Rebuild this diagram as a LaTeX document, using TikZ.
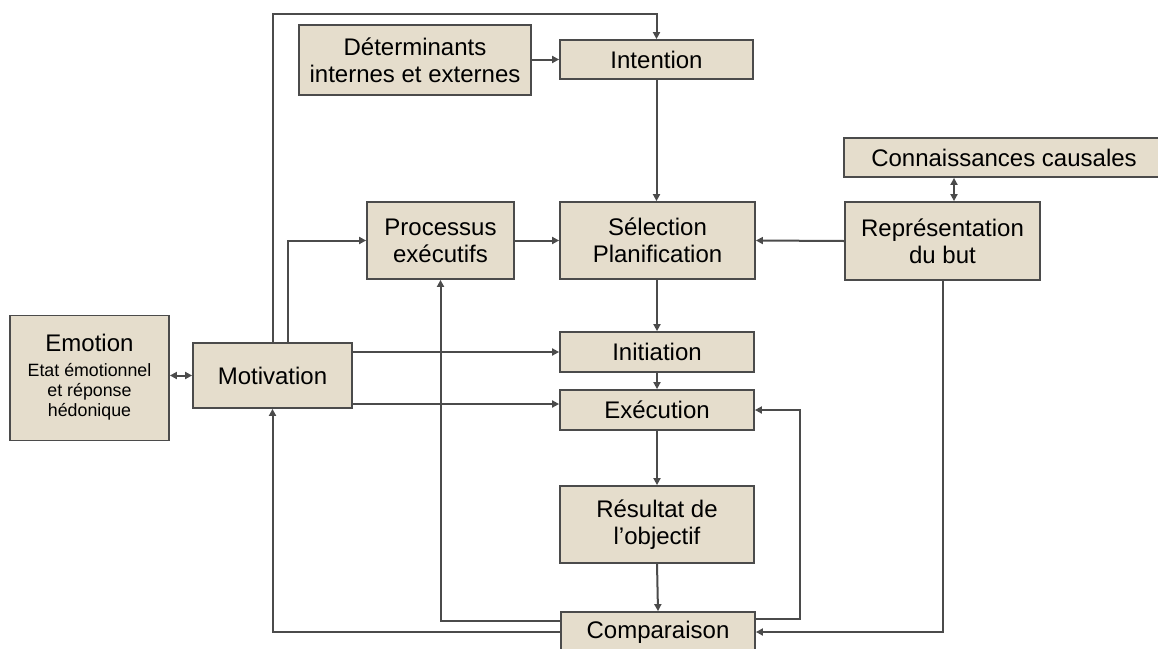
\documentclass[tikz,border=0pt]{standalone}
\usepackage{fontspec}
\setmainfont{Liberation Sans}
\usetikzlibrary{arrows.meta}
\definecolor{boxfill}{RGB}{229,221,204}
\definecolor{linegray}{RGB}{75,75,75}
\newcommand{\subfs}{\fontsize{17.8}{19.8}\selectfont}
\begin{document}
\begin{tikzpicture}[x=1pt,y=-1pt,
  bx/.style={draw=linegray,line width=1.8pt,fill=boxfill,inner sep=0pt,align=center,
    font=\fontsize{24}{27}\selectfont},
  arr/.style={draw=linegray,line width=2pt,-{Triangle[length=7pt,width=7pt]}},
  darr/.style={draw=linegray,line width=2pt,{Triangle[length=7pt,width=7pt]}-{Triangle[length=7pt,width=7pt]}}]
\useasboundingbox (0,0) rectangle (1158,648);
% nodes
\node[bx,minimum width=232pt,minimum height=70pt] (det) at (415,60) {Déterminants\\internes et externes};
\node[bx,minimum width=193pt,minimum height=39pt] (int) at (656.5,59.5) {Intention};
\node[bx,minimum width=320pt,minimum height=39pt] (conn) at (1004,157.5) {Connaissances causales};
\node[bx,minimum width=195pt,minimum height=78pt] (rep) at (942.5,241) {Représentation\\du but};
\node[bx,minimum width=195pt,minimum height=77pt] (sel) at (657.5,240.5) {Sélection\\Planification};
\node[bx,minimum width=147pt,minimum height=77pt] (proc) at (440.5,240.5) {Processus\\exécutifs};
\node[bx,minimum width=159pt,minimum height=125pt] (emo) at (89.5,378) {Emotion\\[-2pt]\subfs\begin{tabular}[t]{@{}c@{}}Etat émotionnel\\et réponse\\hédonique\end{tabular}};
\node[bx,minimum width=159pt,minimum height=65pt] (mot) at (272.5,375.5) {Motivation};
\node[bx,minimum width=194pt,minimum height=40pt] (ini) at (657,352) {Initiation};
\node[bx,minimum width=194pt,minimum height=40pt] (exe) at (657,410) {Exécution};
\node[bx,minimum width=194pt,minimum height=77pt] (res) at (657,524.5) {Résultat de\\l’objectif};
\node[bx,minimum width=194pt,minimum height=40pt] (comp) at (658,632) {Comparaison};
% helper coordinates
\coordinate (topy) at (0,14);
\coordinate (crx) at (954,0);
\coordinate (motx) at (288,0);
\coordinate (loopx) at (800,0);
\coordinate (exein) at ([yshift=6pt]exe.west);
% connectors
\draw[arr] (mot.north) -- (mot.north |- topy) -| (int.north);
\draw[arr] (det.east |- int.west) -- (int.west);
\draw[arr] (int.south) -- (int.south |- sel.north);
\draw[arr] (rep.west) -- (sel.east);
\draw[arr] (proc.east) -- (sel.west);
\draw[arr] (motx |- mot.north) |- (proc.west);
\draw[darr] (crx |- rep.north) -- (crx |- conn.south);
\draw[arr] (sel.south -| ini.north) -- (ini.north);
\draw[arr] (mot.east |- ini.west) -- (ini.west);
\draw[arr] (mot.east |- exein) -- (exein);
\draw[arr] (ini.south) -- (exe.north);
\draw[arr] (exe.south) -- (res.north);
\draw[arr] (res.south) -- (comp.north);
\draw[arr] ([yshift=13pt]comp.east) -| (loopx |- exe.east) -- (exe.east);
\draw[arr] (rep.south) |- (comp.east);
\draw[arr] (comp.west) -| (mot.south);
\draw[arr] ([yshift=11pt]comp.west) -| (proc.south);
\draw[darr] (emo.east |- mot.west) -- (mot.west);
\end{tikzpicture}
\end{document}
